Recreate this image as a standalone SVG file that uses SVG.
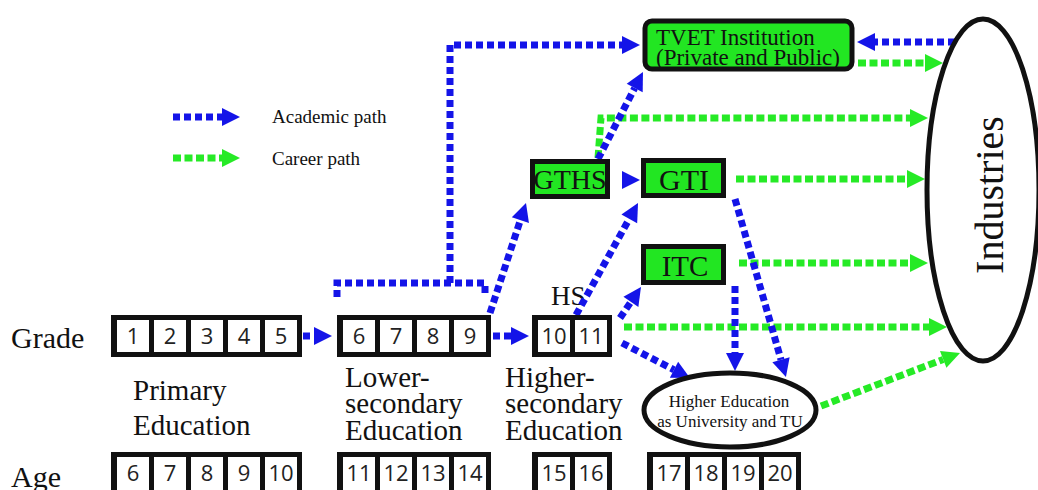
<svg xmlns="http://www.w3.org/2000/svg" width="1038" height="490" viewBox="0 0 1038 490">
  <style>
    .serif { font-family: "Liberation Serif", "Times New Roman", serif; fill: #111; }
    .num { font-family: "Open Sans", "Noto Sans", sans-serif; font-size: 22px; fill: #222; text-anchor: middle; }
    .frame { fill: #111; }
    .cell { fill: #fff; }
    .box { fill: #22e622; stroke: #111; stroke-width: 5; }
    .oval { fill: #fff; stroke: #111; stroke-width: 5; }
    .acad { fill: none; stroke: #1414e8; stroke-width: 7; stroke-dasharray: 7 4; marker-end: url(#headBlue); }
    .career { fill: none; stroke: #26ea26; stroke-width: 7; stroke-dasharray: 8 3.5; marker-end: url(#headGreen); }
    .plain { marker-end: none; }
    .headonly { stroke-dasharray: 0 20; }
  </style>
  <defs>
    <marker id="headBlue" markerUnits="userSpaceOnUse" markerWidth="18" markerHeight="18" refX="0" refY="9" orient="auto" overflow="visible">
      <path d="M0,0 L18,9 L0,18 z" fill="#1414e8"/>
    </marker>
    <marker id="headGreen" markerUnits="userSpaceOnUse" markerWidth="18" markerHeight="18" refX="0" refY="9" orient="auto" overflow="visible">
      <path d="M0,0 L18,9 L0,18 z" fill="#26ea26"/>
    </marker>
  </defs>

  <rect width="1038" height="490" fill="#fff"/>

  <!-- legend -->
  <g id="legend">
    <path class="acad" d="M173 117 H222"/>
    <path class="career" d="M173 158 H222"/>
    <text class="serif" x="272" y="123" font-size="19">Academic path</text>
    <text class="serif" x="272" y="165" font-size="19">Career path</text>
  </g>

  <!-- row labels and stage labels -->
  <g id="labels">
    <text class="serif" x="11" y="348" font-size="30">Grade</text>
    <text class="serif" x="11" y="487" font-size="30">Age</text>
    <text class="serif" font-size="29"><tspan x="133" y="400">Primary</tspan><tspan x="133" y="435">Education</tspan></text>
    <text class="serif" font-size="29"><tspan x="345" y="387">Lower-</tspan><tspan x="345" y="413">secondary</tspan><tspan x="345" y="440">Education</tspan></text>
    <text class="serif" font-size="29"><tspan x="505" y="387">Higher-</tspan><tspan x="505" y="413">secondary</tspan><tspan x="505" y="440">Education</tspan></text>
    <text class="serif" x="551" y="305" font-size="27">HS</text>
  </g>

  <!-- green connectors (career path) -->
  <g id="connectors-career">
    <path class="career" d="M858 63 H925"/>
    <path class="career" d="M598 158 L601 118 H910"/>
    <path class="career" d="M736 179 H907"/>
    <path class="career" d="M739 263 H910"/>
    <path class="career" d="M624 327 H929"/>
    <path class="career" d="M821 406 L943.2 359.4"/>
  </g>

  <!-- blue connectors (academic path) -->
  <g id="connectors-academic">
    <path class="acad" d="M303 336 H314"/>
    <path class="acad" d="M493 336 H511"/>
    <path class="acad plain" d="M337 297 V283 H485 V297"/>
    <path class="acad" d="M450 283 V45 H622"/>
    <path class="acad" d="M490 313 L520.4 220.1"/>
    <path class="acad" d="M576 315 L629.3 218.8"/>
    <path class="acad headonly" d="M621 180 H622"/>
    <path class="acad" d="M598 159 L634.7 88"/>
    <path class="acad" d="M620 318 L630.9 301.9"/>
    <path class="acad" d="M622 343 L674 369.8"/>
    <path class="acad" d="M735 286 V353"/>
    <path class="acad" d="M735 199 L781 359.7"/>
    <path class="acad" d="M955 42 H875"/>
  </g>

  <!-- grade rows -->
  <g id="grade-primary">
    <rect class="frame" x="111" y="315" width="191" height="42"/>
    <rect class="cell" x="117" y="320" width="32" height="32"/>
    <rect class="cell" x="154" y="320" width="32" height="32"/>
    <rect class="cell" x="191" y="320" width="32" height="32"/>
    <rect class="cell" x="228" y="320" width="32" height="32"/>
    <rect class="cell" x="265" y="320" width="32" height="32"/>
    <text class="num" x="133" y="344">1</text>
    <text class="num" x="170" y="344">2</text>
    <text class="num" x="207" y="344">3</text>
    <text class="num" x="244" y="344">4</text>
    <text class="num" x="281" y="344">5</text>
  </g>
  <g id="grade-lower">
    <rect class="frame" x="337" y="315" width="154" height="42"/>
    <rect class="cell" x="343" y="320" width="32" height="32"/>
    <rect class="cell" x="380" y="320" width="32" height="32"/>
    <rect class="cell" x="417" y="320" width="32" height="32"/>
    <rect class="cell" x="454" y="320" width="32" height="32"/>
    <text class="num" x="359" y="344">6</text>
    <text class="num" x="396" y="344">7</text>
    <text class="num" x="433" y="344">8</text>
    <text class="num" x="470" y="344">9</text>
  </g>
  <g id="grade-higher">
    <rect class="frame" x="532" y="315" width="80" height="42"/>
    <rect class="cell" x="538" y="320" width="32" height="32"/>
    <rect class="cell" x="575" y="320" width="32" height="32"/>
    <text class="num" x="554" y="344">10</text>
    <text class="num" x="591" y="344">11</text>
  </g>

  <!-- age rows -->
  <g id="age-primary">
    <rect class="frame" x="111" y="452" width="191" height="43"/>
    <rect class="cell" x="117" y="457" width="32" height="33"/>
    <rect class="cell" x="154" y="457" width="32" height="33"/>
    <rect class="cell" x="191" y="457" width="32" height="33"/>
    <rect class="cell" x="228" y="457" width="32" height="33"/>
    <rect class="cell" x="265" y="457" width="32" height="33"/>
    <text class="num" x="133" y="481">6</text>
    <text class="num" x="170" y="481">7</text>
    <text class="num" x="207" y="481">8</text>
    <text class="num" x="244" y="481">9</text>
    <text class="num" x="281" y="481">10</text>
  </g>
  <g id="age-lower">
    <rect class="frame" x="337" y="452" width="154" height="43"/>
    <rect class="cell" x="343" y="457" width="32" height="33"/>
    <rect class="cell" x="380" y="457" width="32" height="33"/>
    <rect class="cell" x="417" y="457" width="32" height="33"/>
    <rect class="cell" x="454" y="457" width="32" height="33"/>
    <text class="num" x="359" y="481">11</text>
    <text class="num" x="396" y="481">12</text>
    <text class="num" x="433" y="481">13</text>
    <text class="num" x="470" y="481">14</text>
  </g>
  <g id="age-higher">
    <rect class="frame" x="532" y="452" width="80" height="43"/>
    <rect class="cell" x="538" y="457" width="32" height="33"/>
    <rect class="cell" x="575" y="457" width="32" height="33"/>
    <text class="num" x="554" y="481">15</text>
    <text class="num" x="591" y="481">16</text>
  </g>
  <g id="age-university">
    <rect class="frame" x="647" y="452" width="154" height="43"/>
    <rect class="cell" x="653" y="457" width="32" height="33"/>
    <rect class="cell" x="690" y="457" width="32" height="33"/>
    <rect class="cell" x="727" y="457" width="32" height="33"/>
    <rect class="cell" x="764" y="457" width="32" height="33"/>
    <text class="num" x="669" y="481">17</text>
    <text class="num" x="706" y="481">18</text>
    <text class="num" x="743" y="481">19</text>
    <text class="num" x="780" y="481">20</text>
  </g>

  <!-- institutions -->
  <g id="tvet">
    <rect class="box" x="645" y="21" width="207" height="48" rx="7"/>
    <text class="serif" font-size="23"><tspan x="656" y="45">TVET Institution</tspan><tspan x="656" y="65">(Private and Public)</tspan></text>
  </g>
  <g id="gths">
    <rect class="box" x="532.5" y="161.5" width="75" height="35"/>
    <text class="serif" x="570" y="189" font-size="28" text-anchor="middle">GTHS</text>
  </g>
  <g id="gti">
    <rect class="box" x="643.5" y="160.5" width="80" height="35"/>
    <text class="serif" x="684" y="190" font-size="30" text-anchor="middle">GTI</text>
  </g>
  <g id="itc">
    <rect class="box" x="643.5" y="246.5" width="80" height="36"/>
    <text class="serif" x="685" y="276" font-size="29" text-anchor="middle">ITC</text>
  </g>
  <g id="higher-education">
    <ellipse class="oval" cx="730" cy="410" rx="86" ry="37"/>
    <text class="serif" font-size="17" text-anchor="middle"><tspan x="729" y="407">Higher Education</tspan><tspan x="730" y="427">as University and TU</tspan></text>
  </g>
  <g id="industries">
    <ellipse class="oval" cx="983" cy="190" rx="56" ry="171" fill="none"/>
    <text class="serif" font-size="40" text-anchor="middle" transform="translate(1003 195) rotate(-90)">Industries</text>
  </g>
</svg>
